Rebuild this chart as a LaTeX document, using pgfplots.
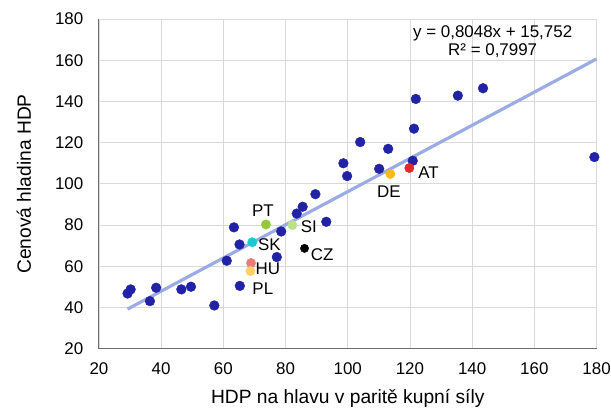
\documentclass[border=0pt]{standalone}
\usepackage{pgfplots}
\pgfplotsset{compat=1.18}
\usepackage{fontspec}
\setmainfont{Liberation Sans}

\definecolor{dotblue}{HTML}{2222A5}
\definecolor{trend}{HTML}{9BACE4}
\definecolor{gridc}{HTML}{D9D9D9}
\definecolor{axc}{HTML}{6E6E6E}
\definecolor{cPT}{HTML}{92C83A}
\definecolor{cSK}{HTML}{1EC8D2}
\definecolor{cHU}{HTML}{EB7C78}
\definecolor{cPL}{HTML}{FDD068}
\definecolor{cDE}{HTML}{FDBA10}
\definecolor{cAT}{HTML}{DD2A2A}
\definecolor{cSI}{HTML}{BEE08A}

\begin{document}
\begin{tikzpicture}
\begin{axis}[
    scale only axis,
    width=498bp, height=330bp,
    xmin=20, xmax=180, ymin=20, ymax=180,
    xtick={20,40,...,180}, ytick={20,40,...,180},
    grid=major,
    major grid style={gridc, line width=0.8pt},
    axis x line*=bottom, axis y line*=left,
    axis line style={axc, line width=1.1pt, -},
    major tick length=0pt,
    clip=false,
    tick label style={font=\fontsize{17}{19}\selectfont, inner sep=0pt},
    /pgf/number format/assume math mode=true,
    xticklabel style={yshift=-13.5bp},
    yticklabel style={xshift=-15.5bp},
    xlabel={HDP na hlavu v paritě kupní síly},
    ylabel={Cenová hladina HDP},
    label style={font=\fontsize{19.3}{22}\selectfont, inner sep=1pt},
    xlabel style={at={(axis description cs:0.5,-0.15)}, anchor=center},
    ylabel style={at={(axis description cs:-0.151,0.5)}, anchor=center},
]
% ostatni zeme
\addplot[only marks, mark=*, mark size=4.9pt, dotblue] coordinates {
    (29.2,46.8) (30.2,48.8) (36.4,43.1) (38.4,49.6) (46.5,48.8) (49.6,50.1)
    (57.1,41.0) (61.1,62.7) (63.4,78.9) (65.2,70.6) (65.3,50.5) (77.2,64.5)
    (78.6,76.9) (83.6,85.6) (85.5,88.9) (89.6,95.0) (93.1,81.6)
    (98.6,110.0) (99.8,103.8) (104.0,120.3) (110.1,107.3) (113.0,117.0)
    (121.3,126.8) (121.9,141.2) (120.9,111.2) (135.4,142.8) (143.5,146.4)
    (179.3,113.0)
};
\addplot[only marks, mark=*, mark size=4.7pt, cPT] coordinates {(73.7,80.3)};
\addplot[only marks, mark=*, mark size=4.7pt, cSK] coordinates {(69.3,71.7)};
\addplot[only marks, mark=*, mark size=4.7pt, cHU] coordinates {(68.9,61.6)};
\addplot[only marks, mark=*, mark size=4.7pt, cPL] coordinates {(68.7,57.7)};
\addplot[only marks, mark=*, mark size=4.7pt, cSI] coordinates {(82.2,80.0)};
\addplot[only marks, mark=*, mark size=4.2pt, black] coordinates {(86.1,68.7)};
\addplot[only marks, mark=*, mark size=4.7pt, cDE] coordinates {(113.7,104.8)};
\addplot[only marks, mark=*, mark size=4.7pt, cAT] coordinates {(119.8,107.7)};
% trend
\addplot[trend, line width=3.2pt, no marks] coordinates {(29.2,39.25) (180,160.62)};

\begin{scope}[font=\fontsize{17}{19}\selectfont, every node/.style={inner sep=0pt}]
\node at (axis cs:72.7,87.2) {PT};
\node at (axis cs:74.8,70.4) {SK};
\node at (axis cs:74.3,58.6) {HU};
\node at (axis cs:72.7,49.3) {PL};
\node at (axis cs:87.5,79.2) {SI};
\node at (axis cs:91.8,65.8) {CZ};
\node at (axis cs:113.2,96.1) {DE};
\node at (axis cs:126.0,105.2) {AT};
\end{scope}
\node[align=center, inner sep=0pt, font=\fontsize{17}{18.5}\selectfont] at (axis cs:146.6,168.9)
    {y = 0,8048x + 15,752\\R² = 0,7997};

\coordinate (bl) at (rel axis cs:-0.1988,-0.185);
\coordinate (tr) at (rel axis cs:1.029,1.0576);
\end{axis}
\path (bl) rectangle (tr);
\end{tikzpicture}
\end{document}
